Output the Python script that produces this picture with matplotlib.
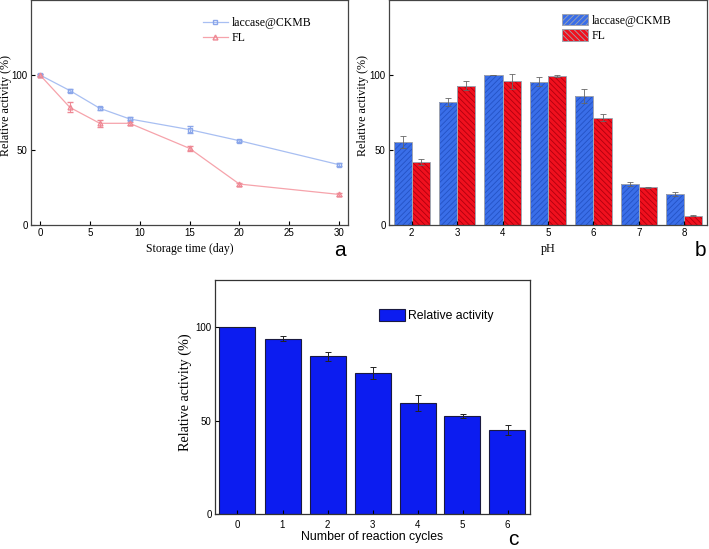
import numpy as np
import matplotlib.pyplot as plt
import matplotlib as mpl

mpl.rcParams['hatch.linewidth'] = 0.6

# ---- panel a: storage stability ----
days = [0, 3, 6, 9, 15, 20, 30]
ckmb_storage = [100, 89.6, 77.8, 70.7, 63.6, 56.2, 40.2]
ckmb_storage_err = [0.5, 0.8, 0.8, 1.0, 2.4, 0.8, 1.0]
fl_storage = [100, 78.4, 67.8, 67.8, 51.1, 27.3, 20.4]
fl_storage_err = [0.5, 3.3, 2.4, 1.0, 1.5, 1.0, 1.0]

# ---- panel b: pH ----
ph = [2, 3, 4, 5, 6, 7, 8]
ckmb_ph = [55.3, 82.0, 100.0, 95.5, 86.0, 27.1, 20.9]
ckmb_ph_err = [4.2, 2.5, 0.0, 3.0, 4.5, 1.3, 1.3]
fl_ph = [42.2, 93.0, 96.0, 99.5, 71.5, 25.1, 6.2]
fl_ph_err = [2.0, 3.3, 5.0, 0.7, 2.3, 0.5, 0.5]

# ---- panel c: reusability ----
cycles = [0, 1, 2, 3, 4, 5, 6]
reuse = [100, 93.6, 84.3, 75.5, 59.3, 52.4, 45.0]
reuse_err = [0.0, 1.4, 2.4, 3.2, 4.4, 1.0, 2.8]

serif = 'Liberation Serif'
sans = 'Liberation Sans'
W, H = 709, 549

fig = plt.figure(figsize=(7.09, 5.49), dpi=100)


def fx(px):
    return px / W


def fy(py):
    return 1 - py / H


def style_ticks(ax, size=7):
    ax.tick_params(direction='in', length=3, width=0.8, labelsize=size, pad=2.5)
    for tl in ax.get_xticklabels() + ax.get_yticklabels():
        tl.set_family(sans)


#==============<<< a.) storage time >>>==============
ax0 = fig.add_axes([fx(31), fy(225), fx(317), 225 / H])
ax0.errorbar(days, ckmb_storage, yerr=ckmb_storage_err, fmt='none', ecolor='#8aa6ea',
             capsize=2, elinewidth=0.7)
ax0.errorbar(days, fl_storage, yerr=fl_storage_err, fmt='none', ecolor='#ee8894',
             capsize=2, elinewidth=0.7)
ax0.plot(days, ckmb_storage, color='#a8bff2', marker='s', ms=3.5, mfc='none',
         mec='#8aa6ea', lw=0.9, label='laccase@CKMB')
ax0.plot(days, fl_storage, color='#f6a3ab', marker='^', ms=3.5, mfc='none',
         mec='#ee8894', lw=0.9, label='FL')
ax0.set_xlim(-0.9, 30.9)
ax0.set_ylim(0, 150)
ax0.set_xticks([0, 5, 10, 15, 20, 25, 30])
ax0.set_yticks([0, 50, 100])
style_ticks(ax0)
ax0.set_xlabel('Storage time (day)', family=serif, fontsize=8.5)
ax0.xaxis.set_label_coords(0.5, (224 - 242) / 225)
ax0.set_ylabel('Relative activity (%)', family=serif, fontsize=8.7)
ax0.yaxis.set_label_coords((12 - 31) / 317, 0.53)
ax0.legend(loc='upper left', bbox_to_anchor=(fx(203), fy(17)),
           bbox_transform=fig.transFigure, frameon=False,
           prop={'family': serif, 'size': 8.5}, handlelength=2.1, borderaxespad=0,
           borderpad=0, labelspacing=0.27, handletextpad=0.35)
fig.text(fx(340), fy(256), 'a', family=sans, fontsize=15, ha='center', va='baseline')

#==============<<< b.) pH >>>==============
ax1 = fig.add_axes([fx(389), fy(225), fx(318), 225 / H])
x = np.array(ph)
w = 0.4
ax1.bar(x - w/2, ckmb_ph, w, color='#3a6ee8', edgecolor='#2452c4', hatch='//////',
        linewidth=0, label='laccase@CKMB')
ax1.bar(x + w/2, fl_ph, w, color='#f0101e', edgecolor='#b0000e', hatch='\\\\\\\\\\\\',
        linewidth=0, label='FL')
ax1.bar(x - w/2, ckmb_ph, w, fill=False, edgecolor='#a0a4b0', linewidth=0.7)
ax1.bar(x + w/2, fl_ph, w, fill=False, edgecolor='#a0a4b0', linewidth=0.7)
ax1.errorbar(x - w/2, ckmb_ph, yerr=ckmb_ph_err, fmt='none', ecolor='#666666',
             elinewidth=0.6, capsize=2, capthick=0.6)
ax1.errorbar(x + w/2, fl_ph, yerr=fl_ph_err, fmt='none', ecolor='#666666',
             elinewidth=0.6, capsize=2, capthick=0.6)
ax1.set_xlim(1.5, 8.5)
ax1.set_ylim(0, 150)
ax1.set_xticks(ph)
ax1.set_yticks([0, 50, 100])
style_ticks(ax1)
ax1.set_xlabel('pH', family=serif, fontsize=8.7)
ax1.xaxis.set_label_coords(0.5, (224 - 242) / 225)
ax1.set_ylabel('Relative activity (%)', family=serif, fontsize=8.7)
ax1.yaxis.set_label_coords((369 - 389) / 318, 0.53)
leg1 = ax1.legend(loc='upper left', bbox_to_anchor=(fx(562), fy(14)),
                  bbox_transform=fig.transFigure, frameon=False,
                  prop={'family': serif, 'size': 8.5}, handlelength=2.2, handleheight=1.1,
                  borderaxespad=0, borderpad=0, labelspacing=0.22, handletextpad=0.35)
for p in leg1.get_patches():
    p.set_linewidth(0.7)
    p.set_edgecolor('#a0a4b0')
fig.text(fx(700), fy(256), 'b', family=sans, fontsize=15, ha='center', va='baseline')

for ax in (ax0, ax1):
    for s in ax.spines.values():
        s.set_color('#444444')
        s.set_linewidth(0.9)

#==============<<< c.) reaction cycles >>>==============
ax2 = fig.add_axes([fx(215), 34.7 / H, fx(315), 234.3 / H])
ax2.bar(cycles, reuse, 0.8, color='#0c1cf0', edgecolor='#1a1a40', linewidth=0.8,
        label='Relative activity')
ax2.errorbar(cycles, reuse, yerr=reuse_err, fmt='none', ecolor='#222222',
             elinewidth=0.7, capsize=2, capthick=0.7)
ax2.set_xlim(-0.5, 6.5)
ax2.set_ylim(0, 125)
ax2.set_xticks(cycles)
ax2.set_yticks([0, 50, 100])
style_ticks(ax2, 7)
ax2.tick_params(axis='x', pad=4)
ax2.set_xlabel('Number of reaction cycles', family=sans, fontsize=8.8)
ax2.xaxis.set_label_coords(0.5, (514.3 - 531) / 234.3)
ax2.set_ylabel('Relative activity (%)', family=serif, fontsize=10.2)
ax2.yaxis.set_label_coords((192 - 215) / 315, 0.52)
ax2.legend(loc='upper left', bbox_to_anchor=(fx(379), fy(309)),
           bbox_transform=fig.transFigure, frameon=False,
           prop={'family': sans, 'size': 8.8}, handlelength=2.1, handleheight=1.1,
           handletextpad=0.3, borderaxespad=0, borderpad=0)
for s in ax2.spines.values():
    s.set_color('#333333')
    s.set_linewidth(0.9)
fig.text(fx(513), fy(545), 'c', family=sans, fontsize=15, ha='center', va='baseline')

fig.savefig('out.png', dpi=100)
